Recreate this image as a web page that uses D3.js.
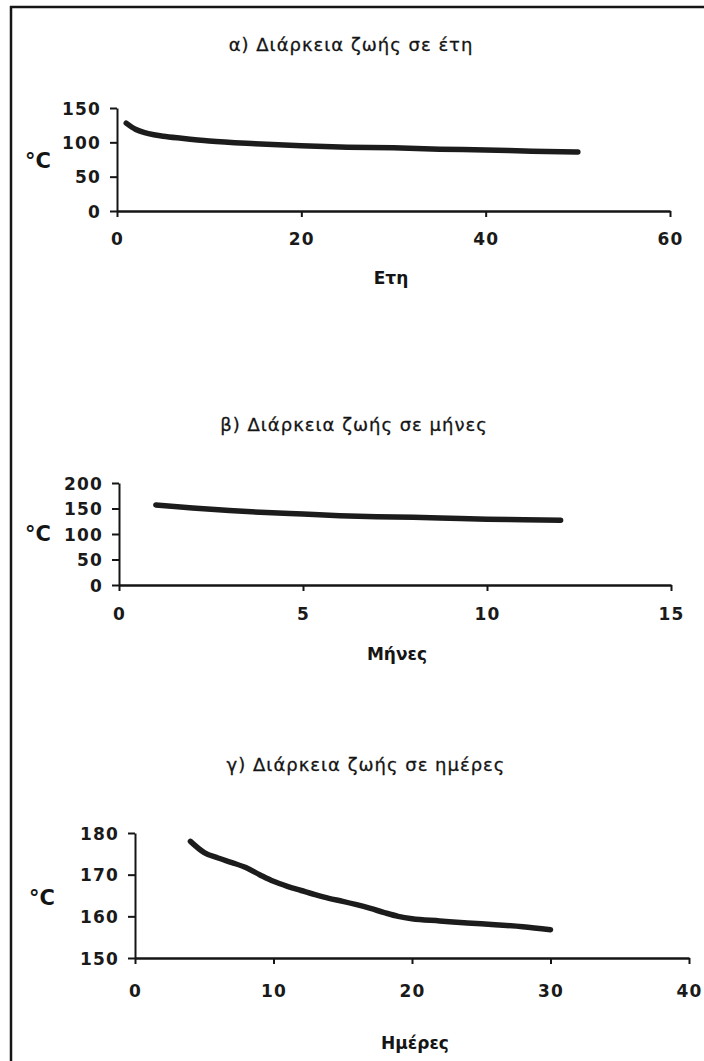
<!DOCTYPE html>
<html><head><meta charset="utf-8">
<script src="https://cdn.jsdelivr.net/npm/d3@7/dist/d3.min.js"></script>
<style>
html,body{margin:0;padding:0;background:#fff;}
svg{display:block;}
.tick text{font-family:"DejaVu Sans",sans-serif;font-weight:bold;fill:#1a1a1a;}
</style></head>
<body>
<svg id="c" width="704" height="1061"></svg>
<script>
// ---- data ----
const titles = ["α) Διάρκεια ζωής σε έτη", "β) Διάρκεια ζωής σε μήνες", "γ) Διάρκεια ζωής σε ημέρες"];
const xLabels = ["Ετη", "Μήνες", "Ημέρες"];
const yLabel = "°C";

const yearsX = [1, 2, 3, 4, 5, 7, 10, 15, 20, 25, 30, 35, 40, 45, 50];
const yearsT = [128, 119, 114, 111, 109, 106, 102, 98, 95, 93, 92, 90, 89, 87, 86];
const yearsXTicks = [0, 20, 40, 60];
const yearsYTicks = [0, 50, 100, 150];

const monthsX = [1, 2, 3, 4, 5, 6, 7, 8, 9, 10, 11, 12];
const monthsT = [157, 151, 146, 142, 139, 136, 134, 133, 131, 129, 128, 127];
const monthsXTicks = [0, 5, 10, 15];
const monthsYTicks = [0, 50, 100, 150, 200];

const daysX = [4, 5, 6, 7, 8, 9, 10, 11, 12, 13, 14, 15, 16, 17, 18, 19, 20, 22, 24, 26, 28, 30];
const daysT = [178, 175.3, 174, 172.9, 171.7, 170, 168.4, 167.2, 166.2, 165.2, 164.3, 163.6, 162.8, 161.9, 160.9, 160, 159.4, 158.9, 158.4, 158, 157.5, 156.8];
const daysXTicks = [0, 10, 20, 30, 40];
const daysYTicks = [150, 160, 170, 180];

// ---- layout ----
const svg = d3.select("#c");
const ink = "#151515";

// page frame (top and left edges of scan)
svg.append("line").attr("x1", 10).attr("x2", 704).attr("y1", 7).attr("y2", 7)
  .attr("stroke", ink).attr("stroke-width", 2.5);
svg.append("line").attr("x1", 11).attr("x2", 11).attr("y1", 6).attr("y2", 1061)
  .attr("stroke", ink).attr("stroke-width", 2.5);

const panels = [
  {title: titles[0], xl: xLabels[0], xs: yearsX, ys: yearsT, xt: yearsXTicks, yt: yearsYTicks,
   x0: 117, x1: 670, yb: 211, yt0: 108, titleY: 51, titleX: 351, tickY: 245, xlY: 284, xlX: 391, cY: 168, cX: 38},
  {title: titles[1], xl: xLabels[1], xs: monthsX, ys: monthsT, xt: monthsXTicks, yt: monthsYTicks,
   x0: 119, x1: 671, yb: 585, yt0: 483, titleY: 431, titleX: 354, tickY: 620, xlY: 660, xlX: 397, cY: 541, cX: 38},
  {title: titles[2], xl: xLabels[2], xs: daysX, ys: daysT, xt: daysXTicks, yt: daysYTicks,
   x0: 135, x1: 689, yb: 958, yt0: 833, titleY: 771, titleX: 366, tickY: 997, xlY: 1049, xlX: 415, cY: 905, cX: 42}
];

panels.forEach(p => {
  const g = svg.append("g");
  const x = d3.scaleLinear().domain([p.xt[0], p.xt[p.xt.length - 1]]).range([p.x0, p.x1]);
  const y = d3.scaleLinear().domain([p.yt[0], p.yt[p.yt.length - 1]]).range([p.yb, p.yt0]);

  // title
  g.append("text").attr("x", p.titleX).attr("y", p.titleY).attr("text-anchor", "middle")
    .attr("font-family", "DejaVu Sans, sans-serif").attr("font-size", 18).attr("letter-spacing", 1)
    .attr("fill", ink).attr("stroke", ink).attr("stroke-width", 0.3).text(p.title);

  // y axis
  const ya = g.append("g").attr("transform", `translate(${p.x0},0)`)
    .call(d3.axisLeft(y).tickValues(p.yt).tickSize(7).tickPadding(9).tickSizeOuter(0));
  ya.select(".domain").attr("stroke", ink).attr("stroke-width", 2);
  ya.selectAll(".tick line").attr("stroke", ink).attr("stroke-width", 2);
  ya.selectAll(".tick text").attr("font-size", 17).attr("letter-spacing", 1.2).attr("dy", "0.36em");

  // x axis
  const xa = g.append("g").attr("transform", `translate(0,${p.yb})`)
    .call(d3.axisBottom(x).tickValues(p.xt).tickSize(6).tickSizeOuter(0));
  xa.select(".domain").attr("stroke", ink).attr("stroke-width", 2.4);
  xa.selectAll(".tick line").attr("stroke", ink).attr("stroke-width", 2);
  xa.selectAll(".tick text").attr("font-size", 17).attr("letter-spacing", 1.2)
    .attr("y", p.tickY - p.yb).attr("dy", 0);

  // axis labels
  g.append("text").attr("x", p.xlX).attr("y", p.xlY).attr("text-anchor", "middle")
    .attr("font-family", "DejaVu Sans, sans-serif").attr("font-weight", "bold").attr("font-size", 17)
    .attr("fill", ink).text(p.xl);
  g.append("text").attr("x", p.cX).attr("y", p.cY).attr("text-anchor", "middle")
    .attr("font-family", "DejaVu Sans, sans-serif").attr("font-weight", "bold").attr("font-size", 21)
    .attr("fill", ink).text(yLabel);

  // curve
  const data = p.xs.map((v, i) => [v, p.ys[i]]);
  g.append("path").datum(data)
    .attr("d", d3.line().x(d => x(d[0])).y(d => y(d[1])).curve(d3.curveMonotoneX))
    .attr("fill", "none").attr("stroke", "#1c1c1c").attr("stroke-width", 5.5)
    .attr("stroke-linecap", "round").attr("stroke-linejoin", "round");
});
</script>
</body></html>
